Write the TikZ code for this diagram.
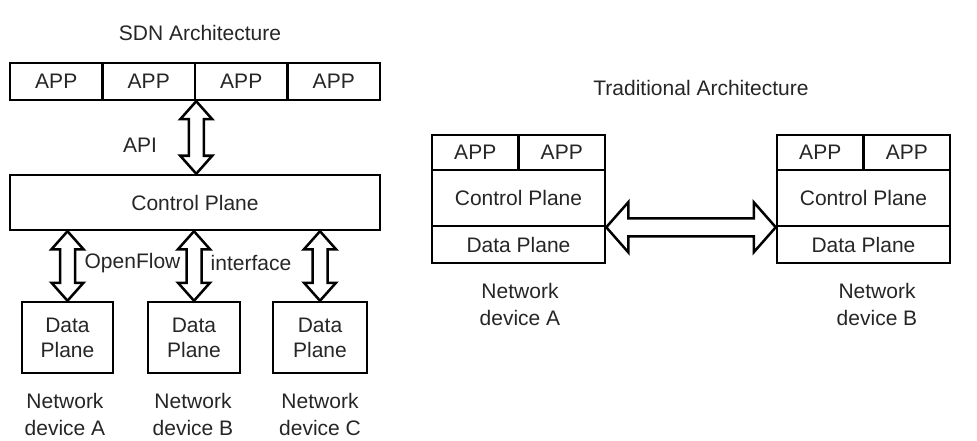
\documentclass[tikz,border=0pt]{standalone}
\usepackage{fontspec}
\setmainfont{Liberation Sans}
\usetikzlibrary{calc}
\tikzset{
 box/.style={draw=black, line width=2.5pt, rectangle, inner sep=0pt, align=center, text=black!85, font=\fontsize{21}{25}\selectfont},
 lbl/.style={align=center, inner sep=0pt, text=black!85, font=\fontsize{21}{27}\selectfont},
 hollow/.style={draw=black, fill=white, line width=2.5pt, line join=miter},
}
% vertical hollow double arrow from top point #1 to bottom point #2
\newcommand{\vdarrow}[2]{\draw[hollow] (#1) -- ($(#1)+(16,18)$) -- ($(#1)+(7.5,18)$) -- ($(#2)+(7.5,-18)$) -- ($(#2)+(16,-18)$) -- (#2) -- ($(#2)+(-16,-18)$) -- ($(#2)+(-7.5,-18)$) -- ($(#1)+(-7.5,18)$) -- ($(#1)+(-16,18)$) -- cycle;}
% horizontal hollow double arrow from left point #1 to right point #2
\newcommand{\hdarrow}[2]{\draw[hollow] (#1) -- ($(#1)+(22,-25)$) -- ($(#1)+(22,-9)$) -- ($(#2)+(-22,-9)$) -- ($(#2)+(-22,-25)$) -- (#2) -- ($(#2)+(-22,25)$) -- ($(#2)+(-22,9)$) -- ($(#1)+(22,9)$) -- ($(#1)+(22,25)$) -- cycle;}
\begin{document}
\begin{tikzpicture}[x=1pt, y=-1pt]
\useasboundingbox[fill=white] (0,0) rectangle (977,441);

% ---------- SDN architecture ----------
\node[lbl] (sdnt) at (200,33) {SDN Architecture};
\node[box, minimum width=92.5pt, minimum height=37pt] (app1) at (56.25,81.5) {APP};
\node[box, minimum width=92.5pt, minimum height=37pt] (app2) at (148.75,81.5) {APP};
\node[box, minimum width=92.5pt, minimum height=37pt] (app3) at (241.25,81.5) {APP};
\node[box, minimum width=92.5pt, minimum height=37pt] (app4) at (333.75,81.5) {APP};
\node[box, minimum width=370pt, minimum height=55pt] (cp) at (195,202.5) {Control Plane};
\node[lbl] (api) at (140,145) {API};

\node[box, minimum width=91pt, minimum height=71pt] (dpa) at (67.5,337.5) {Data\\Plane};
\node[box, minimum width=92pt, minimum height=71pt] (dpb) at (194,337.5) {Data\\Plane};
\node[box, minimum width=94pt, minimum height=71pt] (dpc) at (320,337.5) {Data\\Plane};

\node[lbl] (of) at (132.5,263) {OpenFlow};
\node[lbl] (itf) at (251,263) {interface};

\node[lbl] (nda) at (65,414) {Network\\device A};
\node[lbl] (ndb) at (193,414) {Network\\device B};
\node[lbl] (ndc) at (320,414) {Network\\device C};

\coordinate (apiT) at (app2.south east);
\coordinate (apiB) at (app2.south east |- cp.north);
\vdarrow{apiT}{apiB}
\coordinate (oaT) at (dpa.north |- cp.south);
\vdarrow{oaT}{dpa.north}
\coordinate (obT) at (dpb.north |- cp.south);
\vdarrow{obT}{dpb.north}
\coordinate (ocT) at (dpc.north |- cp.south);
\vdarrow{ocT}{dpc.north}

% ---------- Traditional architecture ----------
\node[lbl] (tradt) at (701,88) {Traditional Architecture};

\node[box, minimum width=86.5pt, minimum height=35pt] (aa1) at (475.25,152.5) {APP};
\node[box, minimum width=86.5pt, minimum height=35pt] (aa2) at (561.75,152.5) {APP};
\node[box, minimum width=173pt, minimum height=56pt] (cpa) at (518.5,198) {Control Plane};
\node[box, minimum width=173pt, minimum height=37pt] (dpta) at (518.5,244.5) {Data Plane};

\node[box, minimum width=86.5pt, minimum height=35pt] (ba1) at (820.25,152.5) {APP};
\node[box, minimum width=86.5pt, minimum height=35pt] (ba2) at (906.75,152.5) {APP};
\node[box, minimum width=173pt, minimum height=56pt] (cpb) at (863.5,198) {Control Plane};
\node[box, minimum width=173pt, minimum height=37pt] (dptb) at (863.5,244.5) {Data Plane};

\node[lbl] (tna) at (520,304) {Network\\device A};
\node[lbl] (tnb) at (877,304) {Network\\device B};

\hdarrow{cpa.south east}{cpb.south west}
\end{tikzpicture}
\end{document}
